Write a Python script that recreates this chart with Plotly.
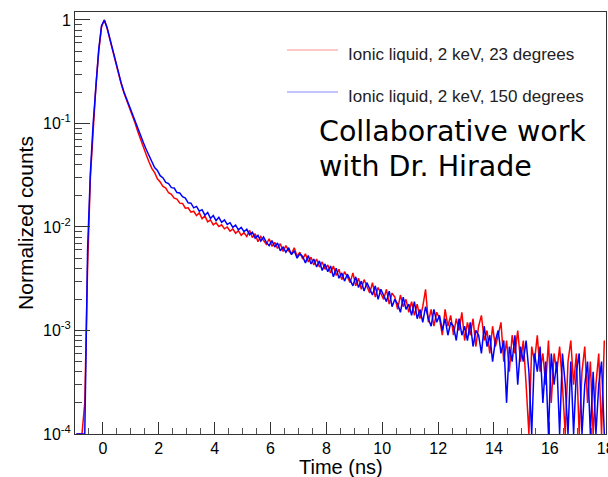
import numpy as np
import plotly.graph_objects as go

# ---------------- data (histograms, 0.1 ns bins starting at -1.0 ns) ----------------
bin_start = -1.0
bin_width = 0.1

red_23deg = [
    0, 0, 0, 2e-4, 4e-3, 0.030, 0.098, 0.235, 0.50, 0.86,
    1.0, 0.83, 0.645, 0.50, 0.385, 0.30, 0.243, 0.198, 0.168, 0.143,
    0.121, 0.101, 0.083, 0.069, 0.059, 0.050, 0.0425, 0.0368, 0.0335, 0.0292,
    0.0272, 0.0246, 0.0238, 0.0214, 0.0207, 0.0190, 0.0186, 0.0170, 0.0169, 0.0152,
    0.0153, 0.0139, 0.0142, 0.0129, 0.0137, 0.0120, 0.0128, 0.0112, 0.0117, 0.0105,
    0.0110, 0.0101, 0.0105, 0.0096, 0.0100, 0.0091, 0.0096, 0.0087, 0.0092, 0.0083,
    0.0088, 0.0081, 0.0093, 0.0079, 0.0086, 0.0072, 0.0081, 0.0074, 0.0068, 0.0077,
    0.0065, 0.0071, 0.0062, 0.0069, 0.0058, 0.0066, 0.0059, 0.0055, 0.0063, 0.0052,
    0.0057, 0.0049, 0.0055, 0.0046, 0.0051, 0.0043, 0.0049, 0.0041, 0.0046, 0.0039,
    0.0043, 0.0036, 0.0042, 0.0034, 0.0039, 0.0031, 0.0037, 0.0033, 0.0029, 0.0036,
    0.0027, 0.0032, 0.0025, 0.0031, 0.0027, 0.0023, 0.0029, 0.0021, 0.0026, 0.0023,
    0.0020, 0.0025, 0.0018, 0.0023, 0.0021, 0.0016, 0.0022, 0.0017, 0.0020, 0.0015,
    0.0019, 0.0014, 0.0018, 0.0013, 0.0017, 0.0025, 0.0012, 0.0016, 0.0011, 0.0015,
    0.0013, 0.0009, 0.0016, 0.0011, 0.0014, 0.0009, 0.0013, 0.0010, 0.0015, 0.0008,
    0.0012, 0.0009, 0.0013, 0.0007, 0.0011, 0.0014, 0.0008, 0.0010, 0.0006, 0.0011,
    0.0007, 0.0009, 0.0012, 0.0005, 0.0008, 0.0004, 0.0009, 0.0006, 0.0010, 0.0005,
    0.0008, 0.0003, 0, 0.0007, 0.0005, 0.0009, 0.0004, 0.0006, 0.0003, 0.0008,
    0.0002, 0.0006, 0.0004, 0.0007, 0.0003, 0, 0.0005, 0.0008, 0.0003, 0.0006,
    0, 0.0004, 0.0007, 0.0002, 0.0005, 0, 0.0003, 0.0006, 0, 0.0008,
]

blue_150deg = [
    0, 0, 0, 0, 6e-3, 0.033, 0.10, 0.24, 0.52, 0.88,
    1.0, 0.84, 0.65, 0.505, 0.39, 0.305, 0.248, 0.203, 0.172, 0.147,
    0.125, 0.107, 0.089, 0.074, 0.065, 0.056, 0.049, 0.0432, 0.0375, 0.0352,
    0.0313, 0.0298, 0.0270, 0.0262, 0.0240, 0.0238, 0.0215, 0.0213, 0.0196, 0.0190,
    0.0171, 0.0170, 0.0153, 0.0158, 0.0142, 0.0147, 0.0130, 0.0138, 0.0121, 0.0129,
    0.0115, 0.0124, 0.0111, 0.0117, 0.0106, 0.0110, 0.0099, 0.0104, 0.0094, 0.0099,
    0.0090, 0.0095, 0.0084, 0.0089, 0.0078, 0.0083, 0.0073, 0.0080, 0.0071, 0.0066,
    0.0074, 0.0064, 0.0070, 0.0059, 0.0064, 0.0057, 0.0063, 0.0054, 0.0059, 0.0050,
    0.0055, 0.0052, 0.0045, 0.0053, 0.0044, 0.0049, 0.0041, 0.0047, 0.0038, 0.0044,
    0.0037, 0.0042, 0.0033, 0.0040, 0.0032, 0.0036, 0.0030, 0.0035, 0.0031, 0.0027,
    0.0033, 0.0026, 0.0030, 0.0024, 0.0029, 0.0025, 0.0022, 0.0027, 0.0020, 0.0025,
    0.0022, 0.0019, 0.0024, 0.0017, 0.0020, 0.0018, 0.0015, 0.0021, 0.0016, 0.0018,
    0.0014, 0.0019, 0.0013, 0.0016, 0.0012, 0.0017, 0.0013, 0.0011, 0.0016, 0.0012,
    0.0014, 0.0010, 0.0013, 0.0009, 0.0012, 0.0011, 0.0008, 0.0013, 0.0009, 0.0011,
    0.0008, 0.0012, 0.0007, 0.0010, 0.0009, 0.0006, 0.0011, 0.0007, 0.0009, 0.0005,
    0.0008, 0.0010, 0.0006, 0.0008, 0.0002, 0.0007, 0.0005, 0.0009, 0.0003, 0.0007,
    0.0005, 0.0008, 0.0004, 0, 0.0006, 0.0004, 0.0007, 0.0002, 0.0005, 0,
    0.0006, 0.0003, 0.0005, 0, 0.0006, 0.0003, 0, 0.0005, 0, 0.0004,
    0.0006, 0, 0.0003, 0.0005, 0, 0.0004, 0, 0.0003, 0.0005, 0,
]

series_names = ["Ionic liquid, 2 keV, 23 degrees", "Ionic liquid, 2 keV, 150 degrees"]
y_tick_vals = [1e-4, 1e-3, 1e-2, 1e-1, 1]
y_tick_text = ["10<sup>-4</sup>", "10<sup>-3</sup>", "10<sup>-2</sup>", "10<sup>-1</sup>", "1"]
x_title = "Time (ns)"
y_title = "Normalized counts"
note_lines = ["Collaborative work", "with Dr. Hirade"]

# ---------------- figure ----------------
W, H = 608, 477
ML, MR, MT, MB = 75, 2, 12, 43
PW, PH = W - ML - MR, H - MT - MB
YMIN = 1e-4


def hist_xy(vals):
    v = np.asarray(vals, dtype=float)
    centers = bin_start + bin_width * (np.arange(len(v)) + 0.5)
    v = np.where(v > 0, v, YMIN)  # empty bins drawn down to the frame floor, ROOT-style
    return centers, v


def px_x(p):
    return (p - ML) / PW


def px_y(p):
    return 1 - (p - MT) / PH


fig = go.Figure()
for vals, col in [(red_23deg, "#ff0000"), (blue_150deg, "#0000ff")]:
    xs, ys = hist_xy(vals)
    fig.add_trace(go.Scatter(x=xs, y=ys, mode="lines", line=dict(color=col, width=1.5),
                             showlegend=False, hoverinfo="skip"))

font_axis = "Liberation Sans, Arial, sans-serif"
minor_y = [m * 10.0 ** e for e in range(-4, 0) for m in range(2, 10)]

fig.update_layout(
    width=W, height=H,
    margin=dict(l=ML, r=MR, t=MT, b=MB, pad=0, autoexpand=False),
    paper_bgcolor="white", plot_bgcolor="white",
    font=dict(family=font_axis, color="black", size=16),
    xaxis=dict(range=[-1, 18.01], showgrid=False, zeroline=False, showline=True, linecolor="#333",
               linewidth=1, mirror=True, ticks="inside", ticklen=12, tickcolor="#333",
               tickmode="linear", tick0=0, dtick=2, tickfont=dict(size=16, family=font_axis),
               ticklabeloverflow="allow", automargin=False,
               minor=dict(ticks="inside", ticklen=6, dtick=0.5, tick0=0, tickcolor="#555", showgrid=False)),
    yaxis=dict(type="log", range=[-4, 0.077], showgrid=False, zeroline=False, showline=True,
               linecolor="#333", linewidth=1, mirror=True, ticks="inside", ticklen=15, tickcolor="#333",
               tickmode="array", tickvals=y_tick_vals, ticktext=y_tick_text,
               tickfont=dict(size=16, family=font_axis), automargin=False,
               minor=dict(ticks="inside", ticklen=7, tickmode="array", tickvals=minor_y, tickcolor="#444",
                          showgrid=False),
               title=dict(text=y_title, font=dict(size=21, family=font_axis), standoff=3)),
)

# x-axis title, placed like ROOT's (centred under the frame)
fig.add_annotation(xref="paper", yref="paper", x=0.5, y=px_y(467), text=x_title, showarrow=False,
                   xanchor="center", yanchor="middle", font=dict(size=20, family=font_axis, color="black"))

# legend (drawn ROOT-style, no frame)
leg_rows = [(50, "#ffb4b4"), (92, "#b0b0ff")]
for (yp, col), name in zip(leg_rows, series_names):
    fig.add_shape(type="line", xref="paper", yref="paper", x0=px_x(287), x1=px_x(338),
                  y0=px_y(yp), y1=px_y(yp), line=dict(color=col, width=1.5))
    fig.add_annotation(xref="paper", yref="paper", x=px_x(346), y=px_y(yp + 4), text=name,
                       showarrow=False, xanchor="left", yanchor="middle",
                       font=dict(size=17, family=font_axis, color="#222"))

for yp, line in zip([131, 166], note_lines):
    fig.add_annotation(xref="paper", yref="paper", x=px_x(317), y=px_y(yp), text=line,
                       showarrow=False, xanchor="left", yanchor="middle",
                       font=dict(size=28.5, family="DejaVu Sans, Verdana, sans-serif", color="black"))

fig.write_html("out.html")
